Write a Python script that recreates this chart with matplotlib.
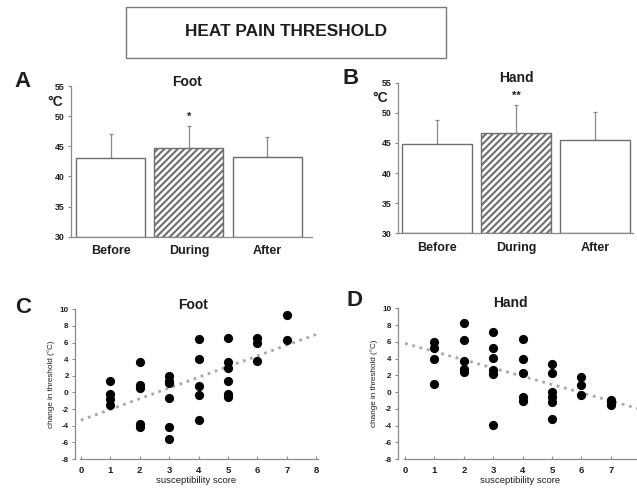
import numpy as np
import matplotlib
matplotlib.use("Agg")
import matplotlib.pyplot as plt
from matplotlib.patches import Rectangle

plt.rcParams["font.family"] = ["Liberation Sans", "DejaVu Sans"]
plt.rcParams["font.weight"] = "bold"
plt.rcParams["axes.unicode_minus"] = False
plt.rcParams["hatch.linewidth"] = 1.5
plt.rcParams["hatch.color"] = "#3c3c3c"

# bar panels: mean threshold and upper error (°C)
conditions = ["Before", "During", "After"]
foot_mean = [43.1, 44.7, 43.2]
foot_err = [3.9, 3.6, 3.3]
hand_mean = [44.8, 46.7, 45.5]
hand_err = [4.0, 4.6, 4.6]
foot_sig = "*"
hand_sig = "**"

# scatter panels: susceptibility score vs change in threshold
foot_x = [1, 1, 1, 1,
          2, 2, 2, 2, 2,
          3, 3, 3, 3, 3, 3,
          4, 4, 4, 4, 4,
          5, 5, 5, 5, 5, 5,
          6, 6, 6,
          7, 7]
foot_y = [1.4, -0.2, -0.8, -1.5,
          3.7, 0.9, 0.5, -3.8, -4.1,
          2.0, 1.4, 1.1, -0.7, -4.1, -5.6,
          6.4, 4.0, 0.8, -0.3, -3.3,
          6.6, 3.7, 3.0, 1.4, -0.2, -0.6,
          6.6, 5.9, 3.8,
          9.3, 6.3]
hand_x = [1, 1, 1, 1,
          2, 2, 2, 2, 2,
          3, 3, 3, 3, 3, 3,
          4, 4, 4, 4, 4,
          5, 5, 5, 5, 5, 5,
          6, 6, 6,
          7, 7, 7]
hand_y = [6.0, 5.2, 4.0, 1.0,
          8.2, 6.2, 3.7, 2.8, 2.4,
          7.2, 5.3, 4.1, 2.6, 2.1, -3.9,
          6.3, 4.0, 2.3, -0.6, -1.1,
          3.3, 2.3, 0.0, -0.6, -1.2, -3.2,
          1.8, 0.8, -0.3,
          -0.9, -1.2, -1.5]

W, H = 637, 488
TXT = "#1e1e1e"
SPINE = "#8a8a8a"

fig = plt.figure(figsize=(W / 100, H / 100), dpi=100)


def px_axes(x0, x1, ytop, ybot):
    return fig.add_axes([x0 / W, 1 - ybot / H, (x1 - x0) / W, (ybot - ytop) / H])


def ftext(x, y, s, **kw):
    fig.text(x / W, 1 - y / H, s, color=TXT, fontweight="bold", **kw)


def style_spines(ax):
    for s in ["top", "right"]:
        ax.spines[s].set_visible(False)
    for s in ["left", "bottom"]:
        ax.spines[s].set_color(SPINE)
        ax.spines[s].set_linewidth(0.9)


def bar_panel(ax, means, errs, sig, xlim):
    pos = np.arange(len(means))
    hatches = ["", "/////", ""]
    for p, m, h in zip(pos, means, hatches):
        ax.bar(p, m - 30, bottom=30, width=0.88, color="white",
               edgecolor="#6e6e6e", linewidth=1.0, hatch=h, zorder=2)
    ax.errorbar(pos, means, yerr=[np.zeros(len(errs)), errs], fmt="none",
                ecolor="#8a8a8a", elinewidth=0.9, capsize=1.5, capthick=0.9, zorder=1)
    ax.text(1, means[1] + errs[1] + 0.7, sig, ha="center", va="bottom",
            fontsize=8, color=TXT, fontweight="bold")
    ax.set_xlim(*xlim)
    ax.set_ylim(30, 55)
    ax.set_yticks(range(30, 56, 5))
    ax.set_xticks(pos)
    ax.set_xticklabels(conditions, fontsize=9, color=TXT, fontweight="bold")
    ax.tick_params(axis="x", length=0, pad=6)
    ax.tick_params(axis="y", length=2.5, width=0.8, color=SPINE, labelsize=6.3,
                   labelcolor=TXT, pad=2)
    style_spines(ax)


def scatter_panel(ax, x, y, xlim, last_label=True):
    ax.scatter(x, y, s=44, color="black", zorder=3, linewidths=0)
    slope, icpt = np.polyfit(x, y, 1)
    xl = np.array([0, 8.05])
    ax.plot(xl, icpt + slope * xl, color="#a8a8a8", lw=2, dashes=(1.0, 1.7),
            zorder=2)
    ax.set_xlim(*xlim)
    ax.set_ylim(-8, 10)
    ticks = list(range(0, 9))
    ax.set_xticks(ticks)
    labels = [str(t) for t in ticks]
    if not last_label:
        labels[-1] = ""
    ax.set_xticklabels(labels)
    ax.set_yticks(range(-8, 11, 2))
    ax.tick_params(axis="x", direction="in", length=2.5, width=0.8, color=SPINE,
                   labelsize=6.8, labelcolor=TXT, pad=5)
    ax.tick_params(axis="y", length=2.5, width=0.8, color=SPINE, labelsize=5.8,
                   labelcolor=TXT, pad=2)
    ax.spines["bottom"].set_bounds(-0.03, 8.05)
    style_spines(ax)
    ax.set_xlabel("susceptibility score", fontsize=6.8, color=TXT, labelpad=1)
    ax.set_ylabel("change in threshold (°C)", fontsize=5.9, color=TXT, labelpad=3)


# title box
fig.patches.append(Rectangle((125.6 / W, 1 - 58.3 / H), (446 - 125.6) / W,
                             (58.3 - 7.3) / H, transform=fig.transFigure,
                             fill=False, edgecolor="#7a7a7a", linewidth=1.0))
ftext(285.8, 31.5, "HEAT PAIN THRESHOLD", ha="center", va="center", fontsize=12.4)

axA = px_axes(70.7, 311.7, 86, 236.7)
bar_panel(axA, foot_mean, foot_err, foot_sig, (-0.51, 2.57))
axB = px_axes(397.7, 633, 82.7, 233.3)
bar_panel(axB, hand_mean, hand_err, hand_sig, (-0.50, 2.48))

axC = px_axes(75, 81 + 8.05 * 29.4, 309.3, 459)
scatter_panel(axC, foot_x, foot_y, (-0.2, 8.05))
axD = px_axes(397.7, 405 + 8.05 * 29.4, 308.3, 459)
scatter_panel(axD, hand_x, hand_y, (-0.25, 8.05), last_label=False)

# panel titles and letters
ftext(187.3, 81.7, "Foot", ha="center", va="center", fontsize=10)
ftext(516.7, 78, "Hand", ha="center", va="center", fontsize=10)
ftext(192.7, 305, "Foot", ha="center", va="center", fontsize=10)
ftext(510.7, 303, "Hand", ha="center", va="center", fontsize=10)
ftext(55, 102, "°C", ha="center", va="center", fontsize=10)
ftext(380, 98, "°C", ha="center", va="center", fontsize=10)
ftext(22.5, 81.5, "A", ha="center", va="center", fontsize=16)
ftext(351, 78.5, "B", ha="center", va="center", fontsize=16)
ftext(23, 307.5, "C", ha="center", va="center", fontsize=16)
ftext(354.5, 301, "D", ha="center", va="center", fontsize=16)

plt.savefig("out.png", dpi=100)
plt.close()
